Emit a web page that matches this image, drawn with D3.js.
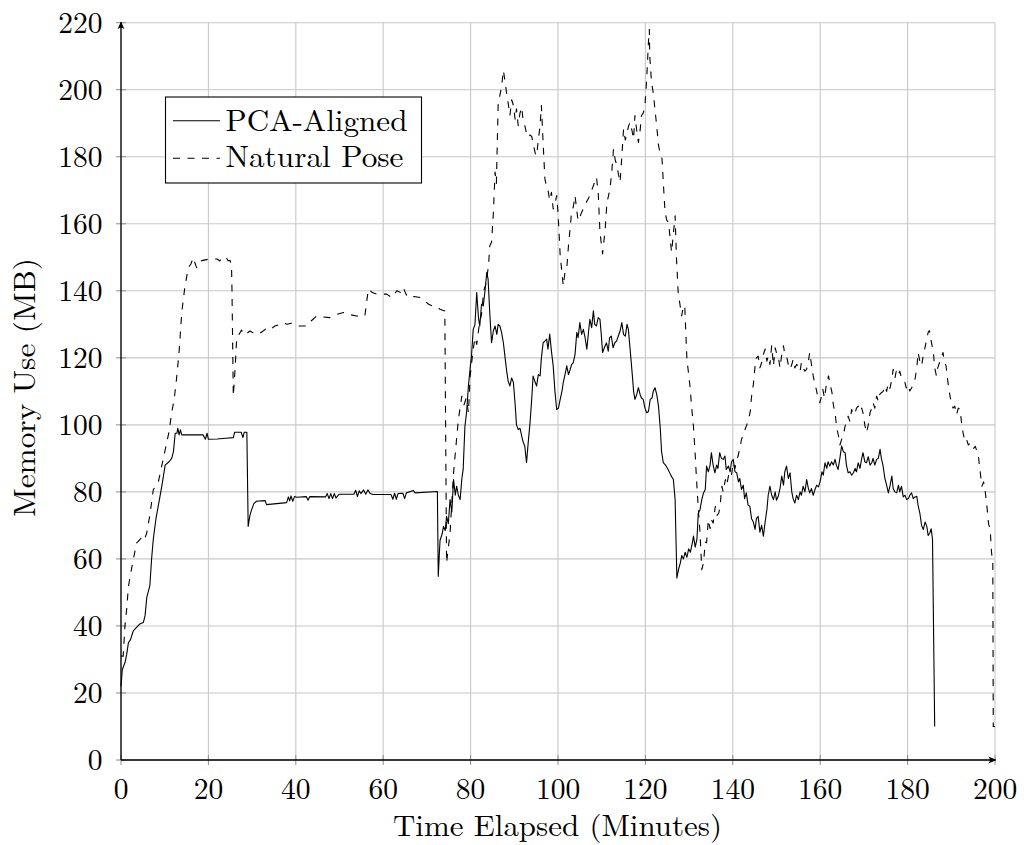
<!DOCTYPE html>
<html>
<head>
<meta charset="utf-8">
<script src="https://cdn.jsdelivr.net/npm/d3@7/dist/d3.min.js"></script>
<style>
  html, body { margin: 0; padding: 0; background: #fff; }
  svg { display: block; }
</style>
</head>
<body>
<svg id="chart" width="1024" height="845"></svg>
<script>
// ---------------- DATA ----------------
const seriesNames = ["PCA-Aligned", "Natural Pose"];
const xTicks = [0, 20, 40, 60, 80, 100, 120, 140, 160, 180, 200];
const yTicks = [0, 20, 40, 60, 80, 100, 120, 140, 160, 180, 200, 220];
const xLabel = "Time Elapsed (Minutes)";
const yLabel = "Memory Use (MB)";

// PCA-Aligned: time (minutes)
const pcaTime = [0,0.3,0.9,1.3,1.7,2.2,2.8,3.5,4.2,5.1,5.5,5.9,6.6,7.0,7.4,8.0,8.9,9.5,10.1,11.0,11.6,12.0,12.4,12.8,13.0,13.3,13.6,13.9,16,18.8,19.3,19.7,20.0,22,24,25.7,26.0,27.5,27.9,28.2,28.8,29.1,29.5,29.9,30.4,31.0,33.0,33.3,37.9,38.3,38.6,38.9,39.3,39.7,40.2,42.4,42.8,43.2,46.8,47.2,47.6,48.0,48.4,48.8,49.2,49.9,53.3,53.7,54.1,54.5,54.9,55.5,56,56.5,57.0,57.7,61.8,62.2,62.6,63.0,63.4,64.5,64.9,65.3,66.9,67.3,72.4,72.6,73.0,73.5,73.8,74.2,74.5,74.9,75.3,75.7,76.1,76.5,76.8,77.2,77.6,78.0,78.3,78.7,79.1,79.5,79.9,80.2,80.6,81.0,81.4,81.8,82.1,82.5,82.9,83.3,83.7,84.0,84.4,84.8,85.2,85.6,86.0,86.3,86.7,87.1,87.5,87.9,88.3,88.6,89.0,89.4,89.8,90.2,90.5,90.9,91.3,91.7,92.0,92.4,92.8,93.2,93.6,94.0,94.3,94.7,95.1,95.5,95.9,96.2,96.6,97.0,97.4,97.7,98.1,98.5,98.9,99.3,99.7,100.1,100.5,100.9,101.2,101.6,102.0,102.4,102.8,103.1,103.5,103.9,104.3,104.6,105.0,105.4,105.8,106.2,106.6,107.0,107.3,107.7,108.1,108.4,108.8,109.2,109.6,109.9,110.2,110.6,111.1,111.5,111.8,112.2,112.6,113.0,113.4,113.8,114.2,114.6,115.0,115.4,115.8,116.1,116.5,117.0,117.3,117.6,118.0,118.4,118.8,119.1,119.5,119.9,120.3,120.7,121.1,121.5,121.8,122.2,122.6,123.0,123.4,123.7,124.1,124.6,125.2,125.8,126.4,126.8,127.2,127.6,128.0,128.3,128.7,129.1,129.5,129.9,130.3,130.7,131.0,131.4,131.8,132.1,132.5,132.9,133.3,133.7,134.0,134.4,134.8,135.1,135.5,135.9,136.3,136.6,137.0,137.4,137.8,138.2,138.5,139.0,139.4,139.7,140.1,140.5,140.9,141.3,141.6,142.0,142.4,142.7,143.1,143.5,143.9,144.3,144.7,145.1,145.4,145.8,146.2,146.6,147.0,147.4,147.8,148.1,148.5,148.9,149.3,149.7,150.0,150.4,150.8,151.2,151.6,151.9,152.3,152.7,153.1,153.5,153.8,154.2,154.6,155.0,155.4,155.7,156.1,156.5,156.9,157.3,157.6,158.0,158.4,158.8,159.2,159.6,160.0,160.4,160.7,161.1,161.5,161.8,162.2,162.6,163.0,163.4,163.7,164.1,164.5,164.9,165.3,165.7,166.0,166.4,166.8,167.2,167.6,168.0,168.3,168.7,169.1,169.5,169.8,170.2,170.6,171.0,171.4,171.8,172.1,172.5,172.9,173.3,173.7,174.0,174.4,174.8,175.2,175.6,176.0,176.4,176.7,177.1,177.5,177.9,178.2,178.6,179.0,179.4,179.8,180.2,180.5,180.9,181.3,181.7,182.1,182.4,182.8,183.2,183.6,184.0,184.4,184.7,185.1,185.4,185.7,186.2];
// PCA-Aligned: memory (MB)
const pcaMem = [22,27,29,31.5,35,36,38.5,39.5,40.5,41,43,48.5,52,60,66,72,78.5,83,88,89,90,92,97.5,97.5,99,97,98.5,97,97,97,95.7,97.5,95.7,95.8,96,96.2,97.8,97.8,96.2,97.8,97.8,69.7,73,74.7,76.5,77.2,77.4,76.2,76.8,78.5,77.3,78.8,77.2,78.6,78.4,78.6,77.5,78.6,78.5,79.5,78,79.5,78,79.5,78.2,79.3,79.3,80.5,78.6,80.3,79.5,80.6,79.3,80.6,79.5,79.2,79.2,77.8,79.6,77.8,79.5,79.6,78,79.7,80.4,79.7,80.1,54.8,65.5,67.5,69.7,68.5,72.7,70.5,77.7,74,83.7,79,81.7,79,77.7,84,86.7,99.6,104,111.6,117,120.5,128.5,130,139.5,132,129.5,136,135.5,140,145.5,143.5,133,124.5,128,129.5,127,130,129.5,127.5,124.5,120,115.6,113,111.6,114,112.6,106,100,98.6,99,96.6,95,93.6,88.7,95,100.6,108,114.6,113,111.6,115,114.6,120,124.5,125,125.6,122.6,127.1,122,117.6,110,104.6,105,107.6,110,112.6,115,117.6,115,116.6,118,118.6,121,127.6,126,130.5,127,128.5,126,122.6,128,131.5,129,134,130,129.5,132,131.5,127,121.6,123,124.5,122,126,126.5,123,124.5,125,126.5,128,130.5,127,126.5,130,128.5,122.6,115,110,107.6,109,111.1,109,108,107.6,105,103.6,104,107.6,108,110,111.1,109,105.6,99,92,88.7,88,86.7,85,83.7,77.7,54.3,57,58.8,61,60,62,60.5,63,62,64.5,66.8,63.5,66,73.7,74.7,77.7,79.7,80.7,87.7,86,88,91.7,88,85.7,88,87,91.7,90,89.7,90.7,86.7,87.7,86,89,89.7,86,85.7,83,84,80.7,82,78,79.7,76,75.7,72,71,68.8,72,72.7,68,70,66.8,71,74.7,79,81.7,79,77.7,80,77.5,78.7,81,84.7,82,86,87.7,84,85.7,80,78,76.7,79,77.7,80,79,81.7,80,83.7,81,79.7,81,79,80.7,82,81.5,83.2,86,85,88.7,87,89,87.7,89,88,89.7,88,86.7,90,93.7,92,91.7,88,85.7,86,85,85.7,87,86,88.7,87,90,91.7,89,88.7,90.5,88,88.7,90,88,89.7,90,92.7,90,87.7,84,82,79.7,82,84.7,81,80,79.7,82,80,81.7,78.5,79,77.7,78,79,79.7,78,78.5,78.7,76,73.7,70,68.8,71,69.7,67,67.8,69,65.8,10];

// Natural Pose: time (minutes)
const natTime = [0,0.5,0.9,1.3,1.7,2.1,2.8,3.6,4.7,5.3,5.9,6.6,7.4,8.5,9.2,10.1,11.0,11.6,12.2,12.7,13.3,13.9,14.6,15.4,16.0,16.5,17.0,17.3,17.8,18.5,20.3,22.0,22.6,23.2,24.0,24.5,25.0,25.3,25.4,25.7,26.1,26.5,27.0,27.6,28.0,28.8,29.5,30.2,31.0,32,33.3,34,35.2,36,37.1,38,39,40.5,42.5,43.5,44.8,46,47.8,49.5,50.9,52,53.9,55.8,56.2,56.6,57.5,58.5,60.8,62,63.1,64.0,64.6,65.2,65.8,67,68.5,69.5,70.4,71.2,71.9,73.0,74.1,74.5,75.3,76.1,76.6,77.2,78.0,78.5,79.0,79.5,79.9,80.6,81.0,81.4,82.0,82.5,83.0,83.5,84.1,84.4,84.8,85.2,85.6,85.9,86.3,86.7,87.1,87.5,87.9,88.2,88.6,89.0,89.4,89.8,90.2,90.5,90.9,91.3,91.7,92.0,92.4,92.8,93.2,93.6,94.0,94.4,94.8,95.1,95.5,95.9,96.2,96.6,97.0,97.4,97.8,98.1,98.5,98.9,99.3,99.7,100.0,100.5,100.9,101.2,101.6,102.0,102.4,102.8,103.1,103.5,103.9,104.2,104.6,105.0,105.4,106.0,106.5,107.3,107.7,108.1,108.8,109.2,109.6,110.2,110.8,111.2,111.5,111.9,112.3,112.7,113.1,113.5,113.8,114.2,114.6,115.0,115.4,115.7,116.1,116.5,116.9,117.3,117.6,118.0,118.4,118.8,119.1,119.5,119.9,120.3,120.7,120.9,121.0,121.4,121.8,122.1,122.6,123.0,123.4,123.8,124.2,124.5,124.9,125.3,125.7,126.0,126.4,126.8,127.1,127.5,127.9,128.3,128.7,129.0,129.5,130.2,130.6,131.0,131.4,131.7,132.1,132.5,132.9,133.3,133.7,134.0,134.4,134.8,135.1,135.5,136.0,136.4,136.8,137.1,137.5,137.8,138.3,138.6,139.0,139.4,139.7,140.1,140.5,140.8,141.2,141.6,142.0,142.4,142.8,143.2,143.6,144.0,144.3,144.7,145.1,145.4,145.8,146.2,146.6,147.0,147.4,147.8,148.1,148.5,148.9,149.3,149.7,150.1,150.4,150.8,151.2,151.6,151.9,152.3,152.7,153.1,153.5,153.8,154.2,154.6,155.0,155.4,155.7,156.1,156.5,156.9,157.3,157.6,158.0,158.4,158.8,159.1,159.5,159.9,160.2,160.6,161.0,161.4,161.9,162.3,162.7,163.0,163.4,163.8,164.2,164.5,164.9,165.3,165.7,166.0,166.4,166.8,167.2,167.6,168.0,168.3,168.7,169.1,169.5,169.8,170.2,170.6,171.0,171.4,171.8,172.1,172.5,172.9,173.3,173.6,174.0,174.4,174.8,175.2,175.5,175.9,176.3,176.7,177.1,177.4,177.8,178.2,178.6,179.0,179.4,179.7,180.1,180.5,180.9,181.3,181.7,182.1,182.4,182.8,183.2,183.5,183.9,184.3,184.7,185.0,185.4,185.9,186.2,186.6,186.9,187.3,187.7,188.1,188.4,188.8,189.2,189.7,190.1,190.4,190.8,191.2,191.6,192.0,192.4,192.7,193.1,193.5,193.9,194.3,194.7,195.1,195.5,195.9,196.2,196.6,197.0,197.4,197.8,198.2,198.5,198.9,199.2,199.5,199.6,200];
// Natural Pose: memory (MB)
const natMem = [31,31,40,45,51.8,54.8,59.8,64.8,66.3,65.5,67.8,73,80.7,82.7,87,92.5,98,103.6,108,113.6,122,133.5,141,146.9,148,149.9,148,146.9,148.5,149,149.5,149.5,148.9,150,150,149,149,146.9,140,108.6,116.6,126.5,127,128.3,127,127.3,128,127.5,128,127.5,128.8,128.3,129.5,129.8,130.5,130,130.3,129.5,129.5,131,132.5,132.2,132,133,133.5,133,132.5,132.5,136.5,140.5,139.5,139,139,138,140,139.5,141,139,138,138.3,138,137,136,135.5,135.5,134.5,134,58.8,67.8,85.7,93,101.6,108.6,106,108,103.6,114.6,122.6,126,124,130,133,140,142,147.5,153.5,154.5,163,175.4,172,195.3,198.3,201,205.8,202.3,199.3,196,192.3,197,195.3,191,194.3,189.3,193,194.8,191,189.3,187,185.8,186.5,186,183.3,181,180.3,185,189.3,195.3,184,173.4,171,169.4,167,169.4,164.4,166,168.4,163.4,150.5,145.5,141.5,145.5,146.5,153.5,159,163.4,165,168.4,165,160.9,162,163.4,165,166.4,168.4,170,171.4,173.9,169.4,157.5,151,158.5,166.4,168,170.4,175.4,182.3,179,177.4,175,172.4,180,188.3,185,186.3,189,190.3,188,185.3,192.3,188,184.3,188,192.3,193,195.3,203.3,214.3,218,210,202.3,199,195.3,189,183.3,181,179.4,170,163.4,161,160.4,155,151.5,157,162.4,150,139.5,136,132.5,135.5,135.5,119.6,111.6,105,99.6,91,83.7,75,67.8,56.8,58.8,65,64.8,71.7,69,71.7,70.7,75.7,73,73.7,76,81.7,80,83.7,82,84.7,86,85,88.7,87,89,90.7,93,95.7,97,98.6,100,101.6,104,108.6,112,117.6,120,120.5,117,118.6,121,122.6,119,120.5,118,123.6,117.6,123,121,120.5,117,121,123.6,121,120.5,118,116.6,118,119.5,117,118,117.6,116,118.6,117,116,116.6,119,121.6,118,114.6,112,110.6,108,106.6,108,110.6,108,112,114.6,112,109.6,106,103.6,99,96.6,94,95.6,97,99.6,101,102.6,101,104.6,103,103.6,105,105.6,104,105,103.6,100,97.6,100,103.6,105,106.6,105,108.6,107,109,109.6,110,111.6,110,112,110.6,113,116.6,114,116,114.6,116,114,113,112.6,111,112,110.1,111,112,113.6,117,121.6,119,117.6,120,122.6,125,127.6,128.1,125,121.6,117,114.6,117,118.6,120,121.6,119,117.6,113,108.6,106,105,105.6,103,105,104.6,100,97.6,95,95.6,94,94.6,94.6,93,93.6,92,90.7,86,81.7,83,79.7,75,70.7,68.8,62,58.8,10,10];

// ---------------- CHART ----------------
const FONT = "'CMU Serif', 'Latin Modern Roman', 'Liberation Serif', 'Times New Roman', Times, 'DejaVu Serif', serif";
const svg = d3.select("#chart");
const x = d3.scaleLinear().domain([0, 200]).range([121, 995]);
const y = d3.scaleLinear().domain([0, 220]).range([760, 22.7]);

const gridColor = "#c8c8c8";

// grid
const grid = svg.append("g");
grid.selectAll("line.vx").data(xTicks).enter().append("line")
  .attr("x1", d => x(d)).attr("x2", d => x(d))
  .attr("y1", y(0)).attr("y2", y(220))
  .attr("stroke", gridColor).attr("stroke-width", 1.1);
grid.selectAll("line.hy").data(yTicks).enter().append("line")
  .attr("y1", d => y(d)).attr("y2", d => y(d))
  .attr("x1", x(0)).attr("x2", x(200))
  .attr("stroke", gridColor).attr("stroke-width", 1.1);

// tick marks
svg.append("g").selectAll("line").data(xTicks).enter().append("line")
  .attr("x1", d => x(d)).attr("x2", d => x(d))
  .attr("y1", y(0) - 5).attr("y2", y(0) + 5)
  .attr("stroke", "#8c8c8c").attr("stroke-width", 1);
svg.append("g").selectAll("line").data(yTicks).enter().append("line")
  .attr("y1", d => y(d)).attr("y2", d => y(d))
  .attr("x1", x(0) - 5).attr("x2", x(0) + 5)
  .attr("stroke", "#8c8c8c").attr("stroke-width", 1);

// tick labels
svg.append("g").selectAll("text").data(xTicks).enter().append("text")
  .attr("x", d => x(d)).attr("y", 798.5)
  .attr("text-anchor", "middle").attr("font-size", 29.5)
  .style("font-family", FONT)
  .text(d => d);
svg.append("g").selectAll("text").data(yTicks).enter().append("text")
  .attr("x", 102.5).attr("y", d => y(d) + 10)
  .attr("text-anchor", "end").attr("font-size", 29.5)
  .style("font-family", FONT)
  .text(d => d);

// series
const pcaData = pcaTime.map((t, i) => [t, pcaMem[i]]);
const natData = natTime.map((t, i) => [t, natMem[i]]);
const line = d3.line().x(d => x(d[0])).y(d => y(d[1]));

const plot = svg.append("g");
plot.append("path").datum(natData)
  .attr("d", line).attr("fill", "none")
  .attr("stroke", "#000").attr("stroke-width", 1.1)
  .attr("stroke-dasharray", "7,7.5")
  .attr("stroke-linejoin", "round");
plot.append("path").datum(pcaData)
  .attr("d", line).attr("fill", "none")
  .attr("stroke", "#000").attr("stroke-width", 1.1)
  .attr("stroke-linejoin", "round");

// axes lines with arrows
const defs = svg.append("defs");
defs.append("marker").attr("id", "arrow")
  .attr("viewBox", "0 0 10 10").attr("refX", 9).attr("refY", 5)
  .attr("markerWidth", 8).attr("markerHeight", 8)
  .attr("markerUnits", "userSpaceOnUse")
  .attr("orient", "auto")
  .append("path").attr("d", "M0,0.5 Q4,5 0,9.5 L10,5 Z").attr("fill", "#000");

svg.append("line")
  .attr("x1", x(0)).attr("x2", x(200) + 0.5)
  .attr("y1", y(0)).attr("y2", y(0))
  .attr("stroke", "#000").attr("stroke-width", 1.3)
  .attr("marker-end", "url(#arrow)");
svg.append("line")
  .attr("x1", x(0)).attr("x2", x(0))
  .attr("y1", y(0)).attr("y2", y(220) - 0.5)
  .attr("stroke", "#000").attr("stroke-width", 1.3)
  .attr("marker-end", "url(#arrow)");

// axis labels
svg.append("text")
  .attr("x", 557.5).attr("y", 836)
  .attr("text-anchor", "middle").attr("font-size", 30)
  .style("font-family", FONT)
  .attr("textLength", 329).attr("lengthAdjust", "spacingAndGlyphs")
  .text(xLabel);
svg.append("text")
  .attr("transform", "translate(35,387.5) rotate(-90)")
  .attr("text-anchor", "middle").attr("font-size", 30)
  .style("font-family", FONT)
  .attr("textLength", 259).attr("lengthAdjust", "spacingAndGlyphs")
  .text(yLabel);

// legend
const legend = svg.append("g");
legend.append("rect")
  .attr("x", 165.5).attr("y", 97).attr("width", 256).attr("height", 86)
  .attr("fill", "#fff").attr("stroke", "#000").attr("stroke-width", 1.1);
const legendRows = [
  { name: seriesNames[0], dash: null, ly: 120.7, ty: 130.5, w: 182 },
  { name: seriesNames[1], dash: "7,7.5", ly: 158.3, ty: 167, w: 178 }
];
legendRows.forEach(r => {
  legend.append("line")
    .attr("x1", 173).attr("x2", 220).attr("y1", r.ly).attr("y2", r.ly)
    .attr("stroke", "#000").attr("stroke-width", 1.1)
    .attr("stroke-dasharray", r.dash);
  legend.append("text")
    .attr("x", 225.5).attr("y", r.ty).attr("font-size", 30)
    .style("font-family", FONT)
    .attr("textLength", r.w).attr("lengthAdjust", "spacingAndGlyphs")
    .text(r.name);
});
</script>
</body>
</html>
